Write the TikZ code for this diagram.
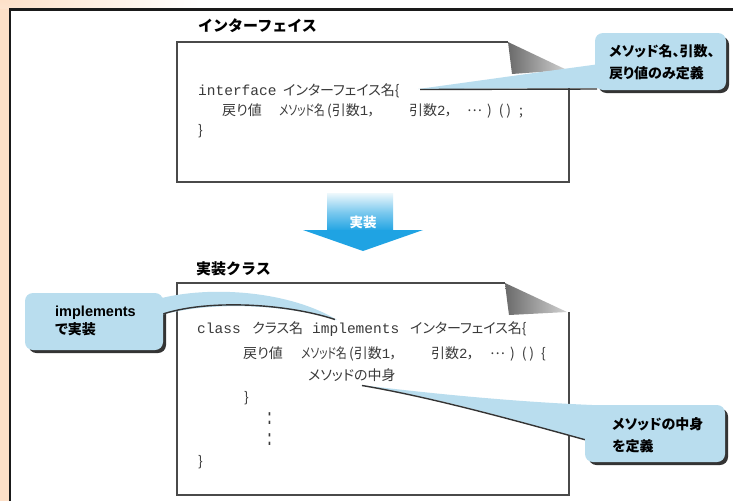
\documentclass[tikz,border=0pt]{standalone}
\usepackage{fontspec}
\setmainfont{Liberation Sans}
\setmonofont{Liberation Mono}
\newfontfamily\jp{Noto Sans CJK JP}
\newfontfamily\jpc{Noto Sans CJK JP}[RawFeature=+palt]
\definecolor{peach}{HTML}{FDE0C8}
\definecolor{framec}{HTML}{1A1A1A}
\definecolor{boxc}{HTML}{4A4A4A}
\definecolor{codec}{HTML}{3A3A3A}
\definecolor{cbg}{HTML}{B9DDEE}
\definecolor{shadc}{HTML}{343434}
\definecolor{arrowblue}{HTML}{1FA3E3}
\definecolor{arrowlight}{HTML}{EEF8FC}
\definecolor{foldd}{HTML}{6A6A6A}
\definecolor{foldl}{HTML}{D2D2D2}
\newcommand{\mdots}{\raisebox{3.5pt}{…}}
\newcommand{\narrow}[1]{\scalebox{0.76}[1]{#1}}
\begin{document}
\begin{tikzpicture}[x=1pt,y=-1pt,
  boxline/.style={draw=boxc, line width=1.2pt},
  code/.style={inner sep=0pt, anchor=base west, text=codec, font=\fontsize{14.5}{16}\selectfont\ttfamily},
  jcode/.style={inner sep=0pt, anchor=base west, text=codec, font=\fontsize{14}{16}\selectfont\jpc},
  title/.style={inner sep=0pt, anchor=base west, font=\fontsize{15}{18}\selectfont\jp\bfseries},
  ctext/.style={inner sep=0pt, anchor=base west, font=\fontsize{14}{16}\selectfont\jpc\bfseries},
  bubble/.style={fill=cbg, rounded corners=8pt},
  bshadow/.style={fill=shadc, rounded corners=8pt},
  tailedge/.style={draw=shadc, line width=1.4pt},
  fold/.style={left color=foldd, right color=foldl},
]
\useasboundingbox (0,0) rectangle (733,501);
\fill[white] (0,0) rectangle (733,501);
% peach margin and glow
\fill[peach] (0,0) rectangle (8.5,501);
\begin{scope}
  \clip (0,0) rectangle (733,8.5);
  \shade[inner color=peach, outer color=white] (0,0) ellipse [x radius=200, y radius=60];
\end{scope}
\draw[framec, line width=2.2pt] (9.8,501) -- (9.8,9.5) -- (733,9.5);

% ---------- interface ----------
\node[title] (t1) at (198,31) {インターフェイス};
\draw[boxline] (569,70) -- (569,182) -- (177,182) -- (177,42) -- (508,42);
\shade[fold] (508,42) .. controls (510,58) .. (512,74) -- (567,70) -- cycle;

\node[code] (i1a) at (198,95) {interface};
\node[jcode] (i1b) at (283,95) {インターフェイス名\{};
\node[jcode] (i2a) at (222,115) {戻り値};
\node[jcode] (i2b) at (279,115) {\narrow{メソッド名}};
\node[jcode] (i2c) at (327,115) {(引数{\ttfamily 1}，};
\node[jcode] (i2d) at (409,115) {引数{\ttfamily 2}，};
\node[jcode] (i2e) at (467,115) {\mdots\hspace{5pt})\hspace{7pt}(\hspace{3pt})\hspace{8pt};};
\node[jcode] (i3) at (198,135) {\}};

% callout 1
\fill[bshadow] (598.5,36.5) rectangle (729,93);
\fill[cbg] (600,64) .. controls (540,72) and (470,82) .. (418,89) -- (600,88) -- cycle;
\draw[tailedge] (420,89.5) -- (597,89);
\fill[bubble] (595,33) rectangle (726,90);
\node[ctext] (c1a) at (609,56) {メソッド名、引数、};
\node[ctext] (c1b) at (609,78) {戻り値のみ定義};

% ---------- arrow ----------
\shade[top color=arrowlight, bottom color=arrowblue, middle color=arrowblue!55!arrowlight] (327,193) rectangle (393,231);
\fill[arrowblue] (303,230) -- (423,230) -- (363,251) -- cycle;
\node[inner sep=0pt, text=white, font=\fontsize{13.5}{15}\selectfont\jpc\bfseries] (a1) at (363,222) {実装};

% ---------- class ----------
\node[title] (t2) at (196,274) {実装クラス};
\draw[boxline] (569,312) -- (569,495) -- (177,495) -- (177,283) -- (505,283);
\shade[fold] (505,283) .. controls (507,300) .. (509,315) -- (567,312) -- cycle;

\node[code] (k1a) at (197,333) {class};
\node[jcode] (k1b) at (252,333) {クラス名};
\node[code] (k1c) at (312,333) {implements};
\node[jcode] (k1d) at (410,333) {インターフェイス名\{};
\node[jcode] (k2a) at (243,358) {戻り値};
\node[jcode] (k2b) at (301,358) {\narrow{メソッド名}};
\node[jcode] (k2c) at (349,358) {(引数{\ttfamily 1}，};
\node[jcode] (k2d) at (431,358) {引数{\ttfamily 2}，};
\node[jcode] (k2e) at (490,358) {\mdots\hspace{5pt})\hspace{7pt}(\hspace{3pt})\hspace{7pt}\{};
\node[jcode] (k3) at (308,380) {メソッドの中身};
\node[jcode] (k4) at (244,402) {\}};
\node[inner sep=0pt, anchor=base, text=codec, font=\fontsize{14}{16}\selectfont\ttfamily] (k5) at (269.5,424) {\scalebox{1}[1.6]{:}};
\node[inner sep=0pt, anchor=base, text=codec, font=\fontsize{14}{16}\selectfont\ttfamily] (k6) at (269.5,445) {\scalebox{1}[1.6]{:}};
\node[jcode] (k7) at (198,466) {\}};

% callout 2
\fill[bshadow] (28.5,296.5) rectangle (166,353);
\fill[cbg] (158,299) .. controls (210,285) and (290,291) .. (337,320)
  .. controls (290,305) and (210,300) .. (158,316) -- cycle;
\draw[tailedge] (160,315) .. controls (205,299) and (285,303) .. (335,319.5);
\fill[bubble] (25,293) rectangle (163,350);
\node[inner sep=0pt, anchor=base west, font=\fontsize{14.5}{16}\selectfont\bfseries] (c2a) at (55,316) {implements};
\node[ctext] (c2b) at (55,334) {で実装};

% callout 3
\fill[bshadow] (588.5,408.5) rectangle (728,465);
\fill[cbg] (592,405) .. controls (500,401) and (420,392) .. (360,385)
  .. controls (430,396) and (510,418) .. (592,442) -- cycle;
\draw[tailedge] (362,385.5) .. controls (430,397) and (510,419) .. (586,440);
\fill[bubble] (585,405) rectangle (725,462);
\node[ctext] (c3a) at (612,429) {メソッドの中身};
\node[ctext] (c3b) at (612,451) {を定義};
\end{tikzpicture}
\end{document}
